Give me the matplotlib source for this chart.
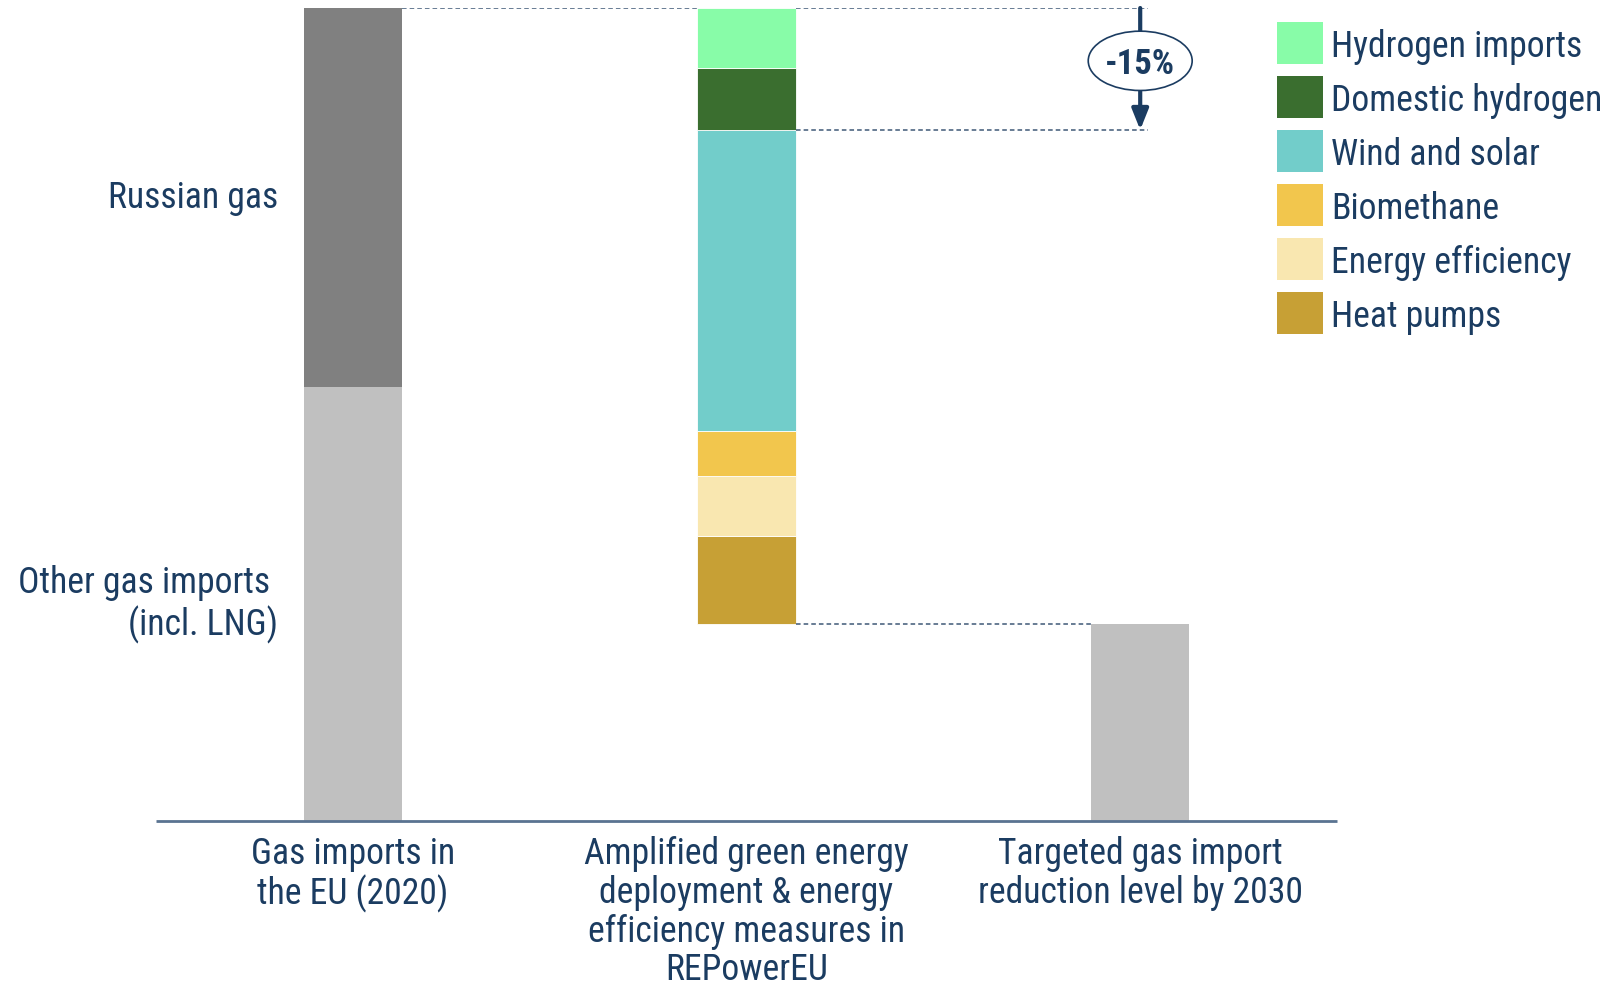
import matplotlib
matplotlib.use("Agg")
import matplotlib.pyplot as plt
import matplotlib.patches as patches
import numpy as np

plt.rcParams['font.family'] = ['Roboto Condensed', 'Liberation Sans Narrow', 'Roboto', 'DejaVu Sans']

# share of EU gas imports in 2020 (%)
categories = ["Gas imports in\nthe EU (2020)",
              "Amplified green energy\ndeployment & energy\nefficiency measures in\nREPowerEU",
              "Targeted gas import\nreduction level by 2030"]

import_labels = ["Other gas imports \n(incl. LNG)", "Russian gas"]
import_values = [53.4, 46.6]
import_colors = ["#c0c0c0", "#808080"]

# replacement measures, stacked bottom to top
measure_labels = ["Heat pumps", "Energy efficiency", "Biomethane",
                  "Wind and solar", "Domestic hydrogen", "Hydrogen imports"]
measure_values = [10.8, 7.4, 5.6, 37.0, 7.6, 7.4]
measure_colors = ["#c7a035", "#f9e7b0", "#f2c64d", "#72cdca", "#3a6e2f", "#88fca8"]

target_value = 24.2
hydrogen_share = 15

navy = "#1b3c61"
dash_color = "#3f5877"
fs = 25.7

fig = plt.figure(figsize=(16.08, 9.9), dpi=100)
ax = fig.add_axes([0.097, 0.1712, 0.7345, 0.8207])
ax.set_xlim(-0.5, 2.5)
ax.set_ylim(0, 100)
ax.axis("off")

w = 0.25
x = np.arange(3)

# bar 1: 2020 imports
bottom = 0
for val, col in zip(import_values, import_colors):
    ax.bar(x[0], val, w, bottom=bottom, color=col, linewidth=0)
    bottom += val
total = bottom

# bar 2: measures hanging from the top
bottom = target_value
for val, col in zip(measure_values, measure_colors):
    ax.bar(x[1], val, w, bottom=bottom, color=col, edgecolor="white", linewidth=0.6)
    bottom += val

# bar 3: remaining imports
ax.bar(x[2], target_value, w, color="#c0c0c0", linewidth=0)

# baseline
ax.plot([-0.5, 2.5], [0, 0], color="#5a7391", lw=2, clip_on=False, solid_capstyle="butt")

# connector lines
dash = dict(color=dash_color, lw=1.1, ls=(0, (3, 2)))
ax.plot([x[0] + w / 2, x[1] - w / 2], [total, total], **dash)
ax.plot([x[1] + w / 2, x[2] + 0.02], [total, total], **dash)
ax.plot([x[1] + w / 2, x[2] + 0.02], [total - hydrogen_share] * 2, **dash)
ax.plot([x[1] + w / 2, x[2] - w / 2], [target_value, target_value], **dash)

# -15% arrow with ellipse label
ax.annotate("", xy=(x[2], total - hydrogen_share), xytext=(x[2], total),
            arrowprops=dict(arrowstyle="-|>,head_length=1.25,head_width=0.5",
                            color=navy, lw=3, shrinkA=0, shrinkB=0))
ax.add_patch(patches.Ellipse((x[2], 93.5), 0.264, 7.3, facecolor="white",
                             edgecolor=navy, lw=1.2, zorder=3))
ax.text(x[2], 93.5, "-%d%%" % hydrogen_share, ha="center", va="center_baseline",
        fontsize=25, fontweight="bold", color=navy, zorder=4)

# labels beside the first bar
ax.text(-0.19, 76.6, import_labels[1], ha="right", va="center", fontsize=fs, color=navy)
ax.text(-0.19, 26.6, import_labels[0], ha="right", va="center",
        fontsize=fs, color=navy, linespacing=1.15)

# category labels
for xi, lab in zip(x, categories):
    ax.text(xi, -1.9, lab, ha="center", va="top", fontsize=fs, color=navy, linespacing=1.1)

# legend, top row first
for i, (lab, col) in enumerate(zip(measure_labels[::-1], measure_colors[::-1])):
    top = 22.5 + i * 54
    fig.patches.append(patches.Rectangle((1277 / 1608, 1 - (top + 41) / 990), 46 / 1608, 41 / 990,
                                         transform=fig.transFigure, facecolor=col,
                                         edgecolor="none"))
    fig.text(1331 / 1608, 1 - (top + 20.5) / 990, lab, ha="left", va="center_baseline",
             fontsize=fs, color=navy)

fig.savefig("out.png", dpi=100)
